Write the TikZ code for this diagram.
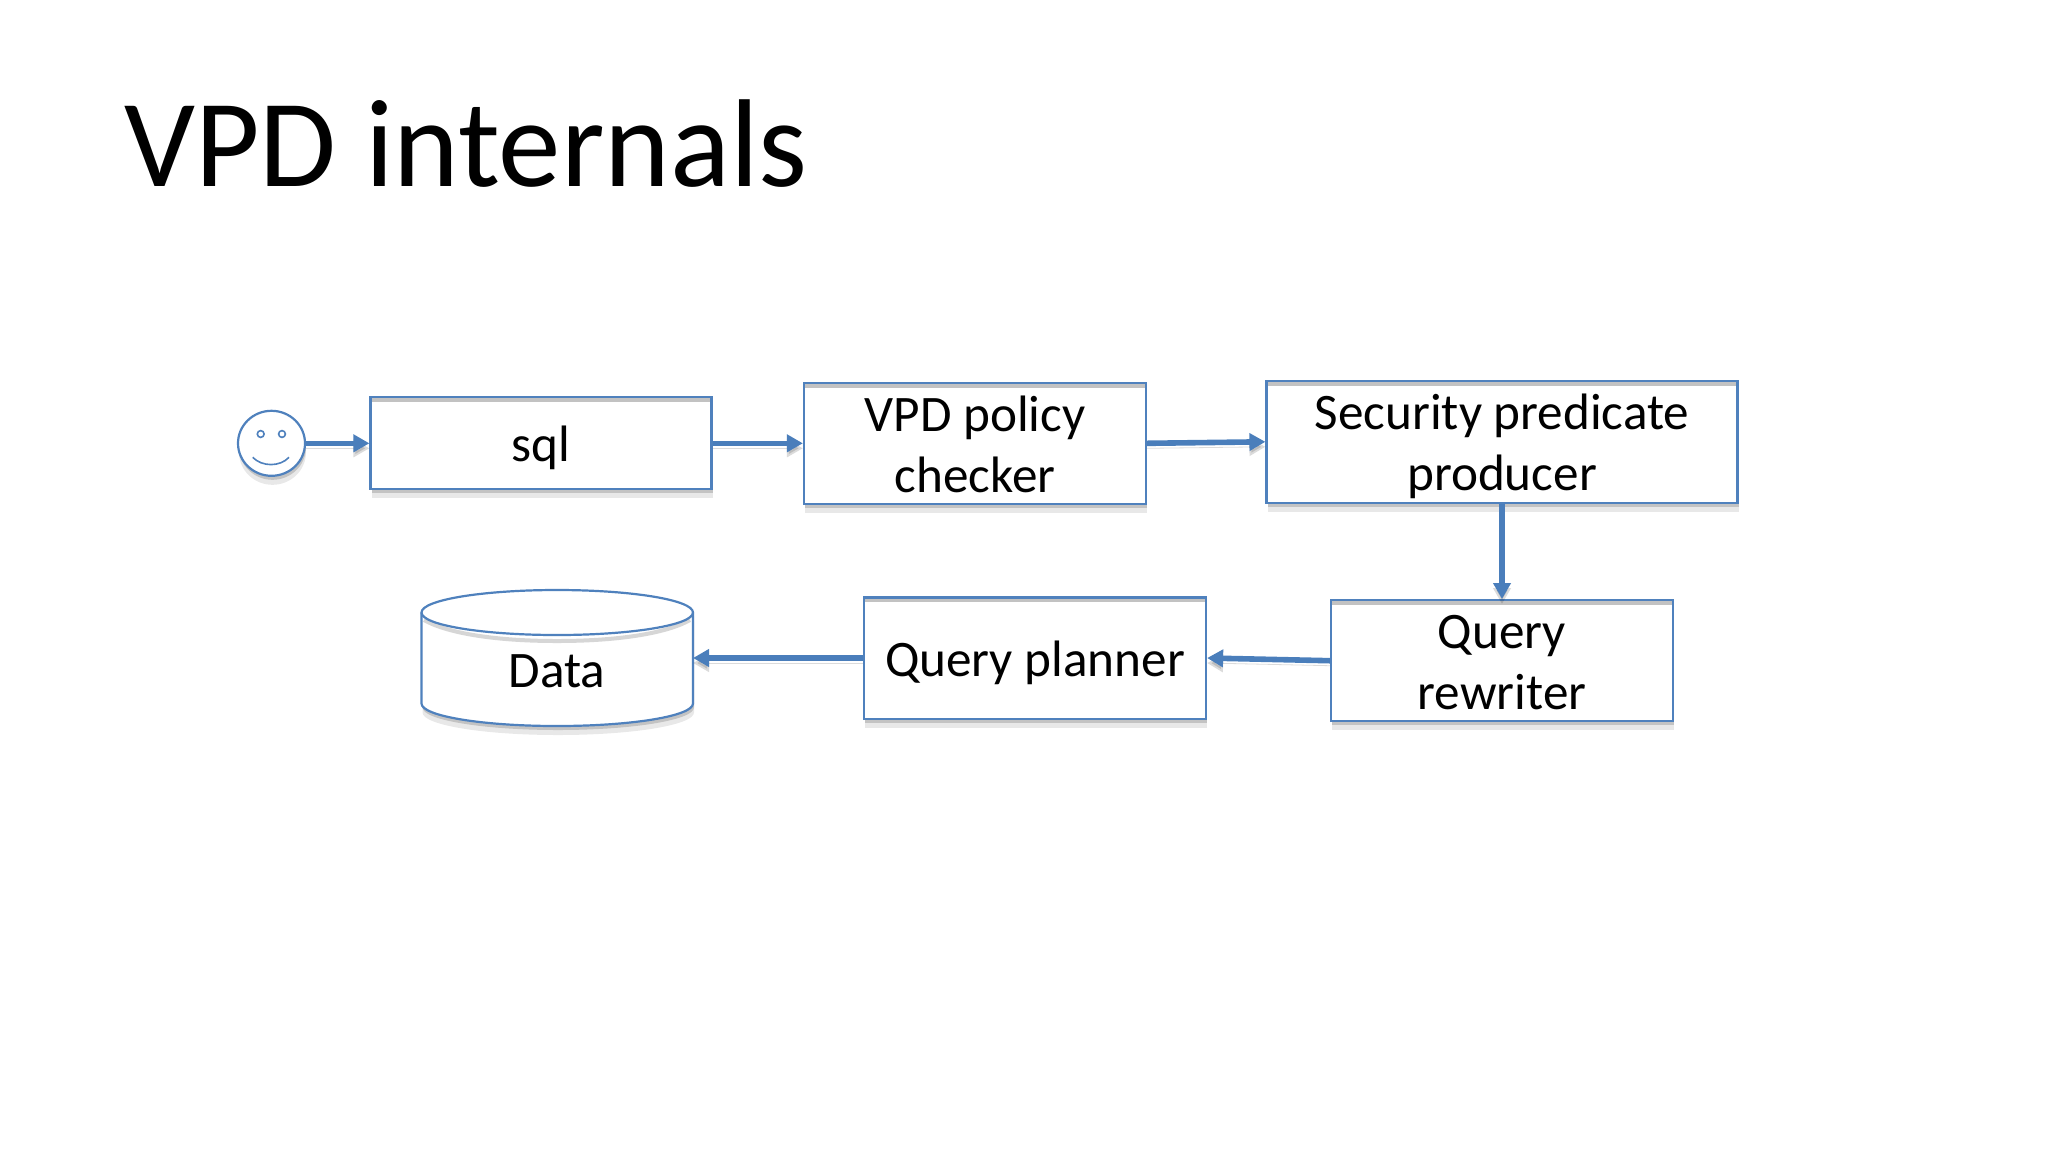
\documentclass[tikz,border=0pt]{standalone}
\usepackage{fontspec}
\setmainfont{Carlito}
\usetikzlibrary{arrows.meta,shapes.geometric,shadows,positioning}
\definecolor{boxblue}{HTML}{4F81BD}
\definecolor{arrowblue}{HTML}{4A7EBB}
\newcommand{\tallstrut}{\rule{0pt}{27.35pt}}
\tikzset{
  softshadow/.style={
    drop shadow={shadow xshift=0.5pt,shadow yshift=-2pt,fill=black,opacity=0.16},
    drop shadow={shadow xshift=0.5pt,shadow yshift=-4.5pt,fill=black,opacity=0.09}},
  box/.style={draw=boxblue,line width=1.1pt,fill=white,align=center,inner xsep=0pt,inner ysep=-5pt,
    font=\fontsize{25.6}{30.5}\selectfont,softshadow,
    path picture={\fill[black!24] (path picture bounding box.north west) rectangle ([yshift=-2.5pt]path picture bounding box.north east);}},
  flow/.style={preaction={draw=black,opacity=0.14,transform canvas={yshift=-2.5pt}},
    draw=arrowblue,line width=2.8pt,-{Triangle[length=8pt,width=8.5pt]},shorten >=0pt},
  facepart/.style={draw=boxblue,line width=0.8pt},
  drum/.style={draw=boxblue,line width=1.1pt}
}
\begin{document}
\begin{tikzpicture}[x=0.5pt,y=-0.5pt]
\useasboundingbox (0,0) rectangle (2048,1152);
\node[anchor=base west,inner sep=0pt,font=\fontsize{62.5}{66}\selectfont] (title) at (124,186) {VPD internals};

\node[ellipse,draw=boxblue,line width=1.1pt,fill=white,softshadow,minimum width=33.5pt,minimum height=32.5pt,inner sep=0pt] (face) at (271.5,443.3) {};
\draw[facepart] (260.7,434) circle (3.4);
\draw[facepart] (282,434) circle (3.4);
\draw[facepart] (252.7,457.3) .. controls (262,467) and (280,467) .. (289,457.3);

\node[box,minimum width=170.5pt,minimum height=46pt] (sql) at (541,443.3) {\tallstrut\strut sql};
\node[box,minimum width=171pt,minimum height=60.5pt] (vpd) at (975,443.3) {\tallstrut\strut VPD policy\\\strut checker};
\node[box,minimum width=235.5pt,minimum height=60.8pt] (sec) at (1502,441.8) {\tallstrut\strut Security predicate\\\strut producer};
\node[box,minimum width=171pt,minimum height=60.6pt] (rew) at (1502,660.7) {\tallstrut\strut Query\\\strut rewriter};
\node[box,minimum width=171pt,minimum height=60.6pt] (plan) at (1035,658) {\tallstrut\strut Query planner};

% drum
\path[drum,fill=white,softshadow] (421.5,612.5) -- (421.5,703.5)
  .. controls (421.5,716) and (482,726) .. (557,726)
  .. controls (632,726) and (693,716) .. (693,703.5)
  -- (693,612.5)
  .. controls (693,600) and (632,590) .. (557,590)
  .. controls (482,590) and (421.5,600) .. (421.5,612.5) -- cycle;
\draw[black!16,line width=2pt] (424,620) .. controls (445,632) and (490,641) .. (557,641)
  .. controls (624,641) and (669,632) .. (690,620);
\draw[drum] (421.5,612.5) .. controls (421.5,625) and (482,635) .. (557,635)
  .. controls (632,635) and (693,625) .. (693,612.5);
\coordinate (dataport) at (693,658);
\node[inner sep=0pt,font=\fontsize{25.6}{30.5}\selectfont] (data) at (557,671) {Data};

\draw[flow] (face.east) -- (sql.west);
\draw[flow] (sql.east) -- (vpd.west);
\draw[flow] (vpd.east) -- (sec.west);
\draw[flow] (sec.south) -- (rew.north);
\draw[flow] (rew.west) -- (plan.east);
\draw[flow] (plan.west) -- (dataport);
\end{tikzpicture}
\end{document}
